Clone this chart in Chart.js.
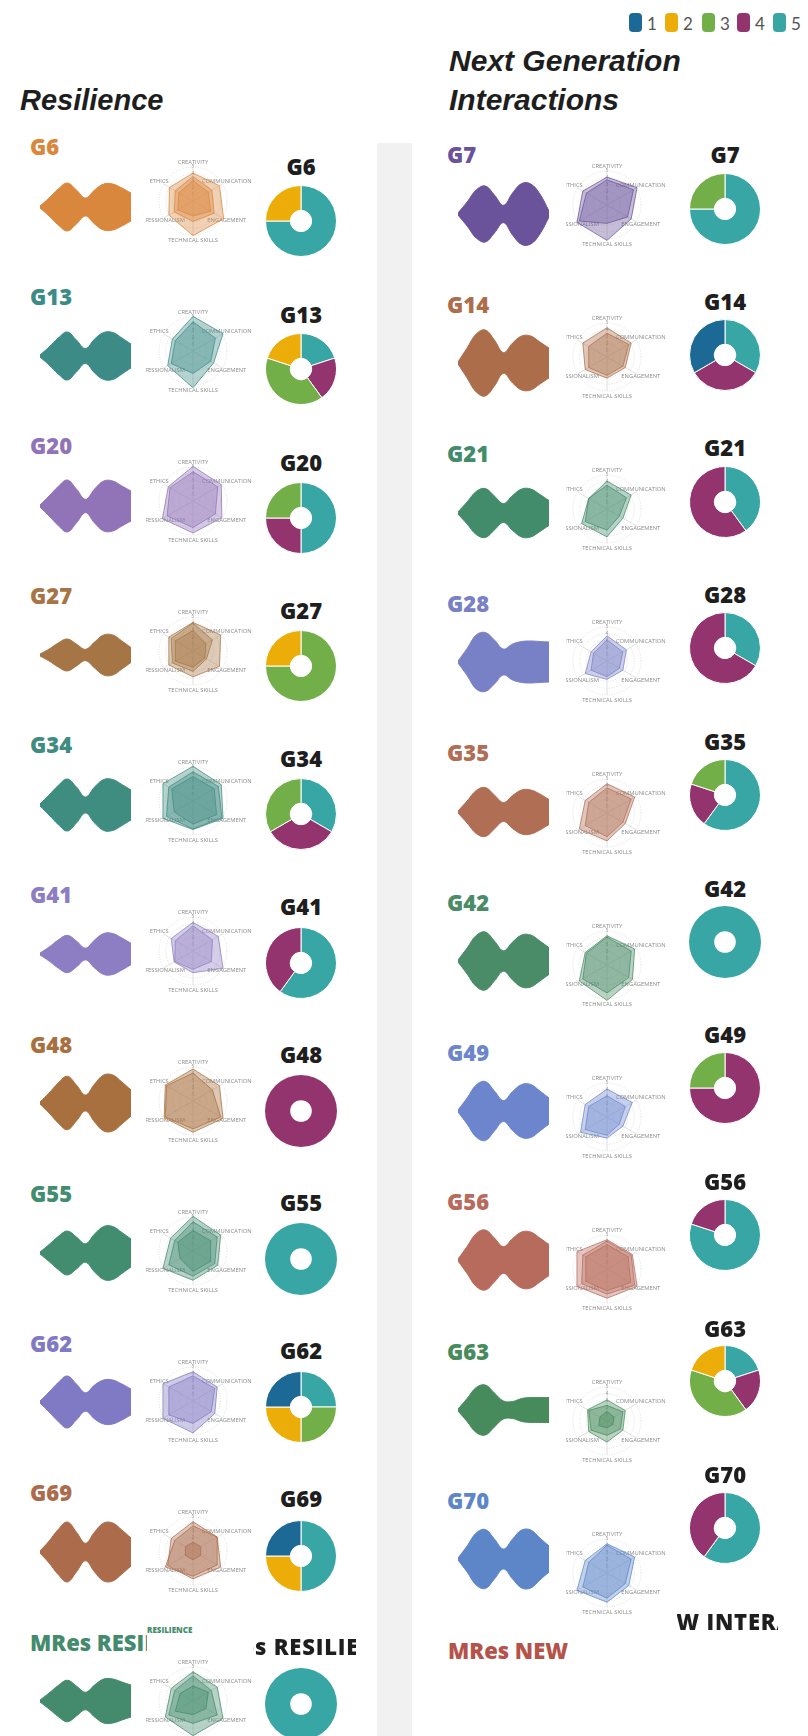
<!DOCTYPE html>
<html>
<head>
<meta charset="utf-8">
<script src="https://cdn.jsdelivr.net/npm/chart.js@4.4.1/dist/chart.umd.min.js"></script>
<style>
    body { margin: 0; background: #fff; }
    #stage { position: relative; width: 808px; height: 1736px; overflow: hidden; background: #fff; }
    #stage canvas { position: absolute; }
    .txt { position: absolute; white-space: nowrap; }
    .clip { position: absolute; overflow: hidden; display: flex; justify-content: center; white-space: nowrap; }
</style>
</head>
<body>
<div id="stage"></div>
<script>
// Rating buckets used by every doughnut
const categories = ['1', '2', '3', '4', '5'];
const categoryColors = ['#1d6996', '#edad08', '#73af48', '#94346e', '#38a6a5'];

const skillAxes = ['CREATIVITY', 'COMMUNICATION', 'ENGAGEMENT', 'TECHNICAL SKILLS', 'PROFESSIONALISM', 'ETHICS'];
const radarTicks = [0, 1, 2, 3, 4, 5];
const shapeSteps = ['0', '1', '2', '3', '4', '5', '6', '7', '8', '9', '10'];

// Resilience column
const leftGroups = ['G6', 'G13', 'G20', 'G27', 'G34', 'G41', 'G48', 'G55', 'G62', 'G69', 'MRes RESILIENCE'];
const leftColors = ['#d9873c', '#3d8b87', '#9173b8', '#a57545', '#3f8c80', '#8d7ec3', '#a9703f', '#428c70', '#8079c3', '#ac6c4c', '#438b6c'];
const leftShapes = [
    [1, 9, 18, 24, 17, 9, 17, 23, 23, 19, 14],
    [1, 9, 18, 24, 16, 7.5, 17, 23.5, 23.5, 18, 12],
    [1, 10, 19.5, 26, 17, 6.7, 17, 25, 25, 20, 15],
    [1, 6, 12, 16, 11, 5.7, 13, 20, 20, 14, 7.5],
    [1, 10, 19.5, 26, 18, 8, 18, 25.5, 25.5, 20.5, 15],
    [1, 7, 14, 18.7, 13, 5.9, 14, 20.5, 20.5, 16, 10.7],
    [1, 10, 20, 26.7, 18, 8, 19, 28, 28, 21, 13],
    [1, 8.5, 16.5, 22, 16, 9.3, 19, 26.5, 26.5, 20.5, 14],
    [1, 10, 19.5, 26, 18, 9.3, 17, 22, 22, 18, 13],
    [1, 11, 22.5, 30, 20, 8.8, 20, 29, 29, 22, 14],
    [1, 8, 15.5, 20.8, 15, 8.8, 16, 22, 22, 19, 16]
];
const leftRadar = [
    [[4.1, 4.5, 5.2, 5.1, 4.1, 4], [3.6, 3.2, 3.6, 3, 3.2, 3], [3, 2.6, 3, 2.2, 2.6, 2.4]],
    [[5.1, 5.1, 3.5, 5.4, 4.3, 3.5], [4.3, 3.8, 3, 3.3, 3.7, 3]],
    [[5.1, 4.8, 4.9, 4.7, 5.2, 4.2], [4.3, 4.2, 3.8, 3.9, 4.4, 3.9]],
    [[4.2, 4.7, 4.5, 3.8, 4.1, 4.1], [4.1, 3.3, 2.3, 3, 3.5, 3.7], [3, 2.2, 2, 2.4, 3, 3]],
    [[5.1, 4.8, 5.1, 4.2, 5.1, 5.1], [4.3, 4.3, 4.9, 4.1, 4.5, 4.1], [3.6, 3.6, 4, 3.4, 3.2, 3.6]],
    [[4.2, 4.3, 5.1, 3.2, 3.2, 3.7], [3.7, 3.3, 3.1, 2.7, 3.1, 3]],
    [[4.7, 4.5, 5.1, 4.6, 4.9, 4.7], [4.1, 3.3, 4.7, 4.1, 4.7, 4.5]],
    [[5.1, 4.7, 4.2, 4.3, 5.1, 3.8], [4.3, 4.1, 3.7, 3.7, 4.1, 3.1], [3, 3, 3, 3, 2.2, 2.6]],
    [[4.3, 4.1, 3.7, 4.7, 5.1, 5.1], [3.7, 3.7, 3.1, 3.3, 4.1, 4.1]],
    [[4.3, 4.1, 4.7, 4.1, 4.3, 3.7], [3.7, 4.1, 4.1, 3.7, 4.7, 3.1], [1.3, 1.3, 1.3, 1.3, 1.3, 1.3]],
    [[4.3, 4.1, 5.1, 5.1, 4.7, 3.7], [3.7, 3.1, 4.1, 3.3, 4.1, 3.1], [2.2, 2.6, 2.2, 2, 3, 2.2]]
];
// counts per rating 1..5
const leftCounts = [
    [0, 1, 0, 0, 3], [0, 1, 2, 1, 1], [0, 0, 1, 1, 2], [0, 1, 3, 0, 0], [0, 0, 1, 1, 1], [0, 0, 0, 2, 3],
    [0, 0, 0, 1, 0], [0, 0, 0, 0, 1], [1, 1, 1, 0, 1], [1, 1, 0, 0, 2], [0, 0, 0, 0, 1]
];

// Next Generation Interactions column
const rightGroups = ['G7', 'G14', 'G21', 'G28', 'G35', 'G42', 'G49', 'G56', 'G63', 'G70', 'MRes NEW INTERACTIONS'];
const rightColors = ['#6a539a', '#ac6e4a', '#428c6c', '#7981c6', '#b06e55', '#4a8c67', '#6c85cc', '#b76b5c', '#478b5c', '#5d86c9', '#b5524a'];
const rightShapes = [
    [1, 12, 24, 28, 19, 8.7, 21, 30.5, 30, 20, 3],
    [1, 15, 29, 33, 23, 10.4, 20, 27, 27, 21, 15],
    [1, 11, 21.5, 24.5, 17, 9.5, 17.5, 24, 24, 18.5, 12.5],
    [1, 13.5, 27, 29.5, 22, 13, 18, 20.5, 21, 20.5, 20],
    [1, 11, 21.5, 24.5, 17, 9.5, 16.5, 22, 22, 18, 12.5],
    [1, 13, 25.5, 29, 20, 10.3, 19, 26, 26, 20, 13.4],
    [1, 13, 26, 29.5, 20, 10.5, 19.5, 26.5, 26.5, 20, 13],
    [1, 13.5, 26.5, 30, 22, 13.4, 21.5, 28, 28, 22, 15.6],
    [1, 11.5, 22.5, 25, 17, 9, 8.5, 11.5, 12.5, 12.5, 12.5],
    [1, 13, 26, 29.5, 20, 10, 20, 29, 29, 21, 13]
];
const rightRadar = [
    [[4.1, 5.1, 4.1, 5.2, 5.1, 4.1], [3.7, 4.5, 3.5, 2.7, 4.7, 3.5]],
    [[4.3, 4.1, 3.1, 3.1, 3.7, 4.1], [3.5, 3.7, 2.7, 2.7, 3.1, 3.1]],
    [[4.1, 4.1, 2.7, 4.1, 4.3, 3.1], [3.5, 3.3, 2.1, 3.1, 3.7, 3.1]],
    [[3.7, 3.3, 2.7, 2.7, 3.7, 2.7], [3.1, 2.7, 2.1, 2.3, 2.7, 2.3]],
    [[4.3, 4.7, 3.1, 4.1, 4.7, 3.7], [3.7, 4.1, 2.7, 3.5, 3.7, 3.1]],
    [[4.3, 4.7, 4.3, 5.2, 4.7, 3.7], [4.1, 4.1, 3.7, 4.1, 4.1, 3.5]],
    [[4.1, 4.3, 2.7, 3.1, 4.5, 3.7], [3.1, 3.1, 2.1, 2.7, 3.7, 3.1]],
    [[4.3, 4.3, 5.1, 4.3, 5.1, 5.1], [4.1, 4.1, 4.7, 3.7, 4.3, 4.1], [3.6, 3.6, 4, 3.2, 3.6, 3.6]],
    [[3.1, 3.1, 2.7, 3.1, 3.1, 3.3], [2.3, 2.7, 2.3, 2.1, 2.7, 3.1], [1.4, 1.2, 1, 1, 1.4, 1.2]],
    [[4.3, 4.7, 3.7, 4.3, 5.1, 3.7], [4.1, 4.1, 3.1, 3.7, 4.1, 3.1]]
];
const rightCounts = [
    [0, 0, 1, 0, 3], [1, 0, 0, 1, 1], [0, 0, 0, 3, 2], [0, 0, 0, 2, 1], [0, 0, 1, 1, 3],
    [0, 0, 0, 0, 1], [0, 0, 1, 3, 0], [0, 0, 0, 1, 4], [0, 1, 2, 1, 1], [0, 0, 0, 2, 3]
];

const stage = document.getElementById('stage');

const hexA = (hex, a) => {
    const n = parseInt(hex.slice(1), 16);
    return `rgba(${n >> 16},${(n >> 8) & 255},${n & 255},${a})`;
};

const baseOpts = {
    responsive: false,
    animation: false,
    events: [],
    plugins: { legend: { display: false }, tooltip: { enabled: false } }
};

function addCanvas(left, top, w, h, parent) {
    const c = document.createElement('canvas');
    c.width = w;
    c.height = h;
    c.style.left = left + 'px';
    c.style.top = top + 'px';
    c.style.width = w + 'px';
    c.style.height = h + 'px';
    (parent || stage).appendChild(c);
    return c;
}

function addText(txt, x, cy, size, color, family, style) {
    const d = document.createElement('div');
    d.className = 'txt';
    d.textContent = txt;
    d.style.cssText += `left:${x}px;top:${cy - size / 2}px;font:${style || '800'} ${size}px ${family};line-height:${size}px;color:${color};`;
    stage.appendChild(d);
    return d;
}

// long names overflow their box on both sides
function addClippedTitle(txt, left, width, cy, size, color, family) {
    const d = document.createElement('div');
    d.className = 'clip';
    d.style.cssText += `left:${left}px;width:${width}px;top:${cy - size / 2 - 4}px;height:${size + 8}px;font:800 ${size}px ${family};line-height:${size + 8}px;letter-spacing:0.8px;color:${color};`;
    const s = document.createElement('span');
    s.textContent = txt;
    d.appendChild(s);
    stage.appendChild(d);
}

// violin-like spread shape: upper edge and its mirror, filled between
function drawShape(x, cy, values, color) {
    const h = 74;
    const c = addCanvas(x, Math.round(cy - h / 2), 91, h);
    new Chart(c, {
        type: 'line',
        data: {
            labels: shapeSteps,
            datasets: [
                { data: values, borderColor: color, borderWidth: 1, pointRadius: 0, fill: false, tension: 0.4 },
                { data: values.map(v => -v), borderColor: color, borderWidth: 1, pointRadius: 0, fill: '-1', backgroundColor: color, tension: 0.4 }
            ]
        },
        options: {
            ...baseOpts,
            layout: { padding: 0 },
            scales: {
                x: { display: false },
                y: { display: false, min: -37, max: 37 }
            }
        }
    });
}

// axis names sit centred on each spoke, under the polygons
const axisNames = {
    id: 'axisNames',
    beforeDatasetsDraw(chart) {
        const r = chart.scales.r;
        const ctx = chart.ctx;
        ctx.save();
        ctx.font = '5.8px "Open Sans"';
        ctx.fillStyle = '#8c8c8c';
        ctx.textAlign = 'center';
        ctx.textBaseline = 'middle';
        chart.data.labels.forEach((lab, i) => {
            const p = r.getPointPosition(i, r.drawingArea + 5);
            ctx.fillText(lab, p.x, p.y);
        });
        ctx.restore();
    }
};

function drawRadar(cx, cy, clipLeft, sets, color) {
    const wrap = document.createElement('div');
    wrap.style.cssText = `position:absolute;left:${clipLeft}px;top:${cy - 50}px;width:${cx + 70 - clipLeft}px;height:100px;overflow:hidden;`;
    stage.appendChild(wrap);
    const c = addCanvas(cx - 70 - clipLeft, 0, 140, 100, wrap);
    new Chart(c, {
        type: 'radar',
        data: {
            labels: skillAxes,
            datasets: sets.map(s => ({
                data: s,
                backgroundColor: hexA(color, 0.38),
                borderColor: hexA(color, 0.75),
                borderWidth: 1,
                pointRadius: 0,
                clip: false
            }))
        },
        options: {
            ...baseOpts,
            layout: { padding: { left: 33, right: 33, top: 12, bottom: 12 } },
            scales: {
                r: {
                    min: radarTicks[0],
                    max: radarTicks[radarTicks.length - 1],
                    ticks: {
                        stepSize: 1,
                        font: { size: 5, family: 'Open Sans' },
                        color: '#a0a0a0',
                        showLabelBackdrop: false,
                        backdropPadding: 0
                    },
                    grid: { circular: true, color: '#dcdcdc' },
                    border: { dash: [1, 1.5] },
                    angleLines: { color: '#e0e0e0' },
                    pointLabels: { display: false }
                }
            }
        },
        plugins: [axisNames]
    });
}

function drawDonut(cx, cy, counts) {
    const c = addCanvas(Math.round(cx - 40), Math.round(cy - 40), 80, 80);
    const used = counts.filter(v => v > 0).length;
    new Chart(c, {
        type: 'doughnut',
        data: {
            labels: categories.slice().reverse(),
            datasets: [{
                data: counts.slice().reverse(),
                backgroundColor: categoryColors.slice().reverse(),
                borderColor: '#fff',
                borderWidth: used > 1 ? 1 : 0
            }]
        },
        options: {
            ...baseOpts,
            cutout: '30%',
            layout: { padding: 4 }
        }
    });
}

// ---- page furniture ----
const strip = document.createElement('div');
strip.style.cssText = 'position:absolute;left:377px;top:143px;width:35px;height:1593px;background:#f1f1f1;';
stage.appendChild(strip);

const legendX = [629, 665, 702, 737, 773];
categories.forEach((lab, i) => {
    const sw = document.createElement('div');
    sw.style.cssText = `position:absolute;left:${legendX[i]}px;top:13px;width:13px;height:19px;border-radius:4px;background:${categoryColors[i]};`;
    stage.appendChild(sw);
    addText(lab, legendX[i] + 18, 23, 17, '#555', 'Lato, sans-serif', '400');
});

const headFont = '"Liberation Sans", Arial, sans-serif';
addText('Resilience', 20, 100, 29, '#1e1e1e', headFont, 'italic 700');
addText('Next Generation', 449, 61, 30, '#1e1e1e', headFont, 'italic 700');
addText('Interactions', 449, 100, 30, '#1e1e1e', headFont, 'italic 700');

const labelFont = '"Open Sans", sans-serif';
const titleFont = '"Open Sans", sans-serif';

// ---- Resilience column ----
leftGroups.forEach((g, i) => {
    const col = leftColors[i];
    const last = i === leftGroups.length - 1;
    if (last) {
        const lab = document.createElement('div');
        lab.style.cssText = `position:absolute;left:30px;top:${146 + 149.6 * i - 13}px;width:117px;height:26px;overflow:hidden;white-space:nowrap;font:800 22px ${labelFont};line-height:26px;color:${col};`;
        lab.textContent = g;
        stage.appendChild(lab);
        addText('RESILIENCE', 147, 1629.5, 8, col, labelFont);
        addClippedTitle(g, 253, 103, 166 + 148 * i, 22, '#1e1e1e', titleFont);
    } else {
        addText(g, 30, 146 + 149.6 * i, 22, col, labelFont);
        const t = addText(g, 201, 166 + 148 * i, 22, '#1e1e1e', titleFont);
        t.style.width = '200px';
        t.style.textAlign = 'center';
    }
    drawShape(40, 207 + 149.4 * i, leftShapes[i], col);
    drawRadar(193, Math.round(201 + 150 * i), 146, leftRadar[i], col);
    drawDonut(301, 221 + 148.3 * i, leftCounts[i]);
});

// ---- Next Generation Interactions column ----
rightGroups.forEach((g, i) => {
    const col = rightColors[i];
    if (i === rightGroups.length - 1) {
        const lab = document.createElement('div');
        lab.style.cssText = `position:absolute;left:448px;top:${154 + 149.6 * i - 13}px;width:125px;height:26px;overflow:hidden;font:800 22px ${labelFont};line-height:26px;color:${col};`;
        lab.textContent = g;
        stage.appendChild(lab);
        addClippedTitle(g, 677, 101, 154 + 146.7 * i, 22, '#1e1e1e', titleFont);
        return;
    }
    addText(g, 447, 154 + 149.6 * i, 22, col, labelFont);
    const t = addText(g, 625, 154 + 146.7 * i, 22, '#1e1e1e', titleFont);
    t.style.width = '200px';
    t.style.textAlign = 'center';
    drawShape(458, 213.6 + 149.5 * i, rightShapes[i], col);
    drawRadar(607, Math.round(205 + 152 * i), 566, rightRadar[i], col);
    drawDonut(725, 208.6 + 146.6 * i, rightCounts[i]);
});
</script>
</body>
</html>
